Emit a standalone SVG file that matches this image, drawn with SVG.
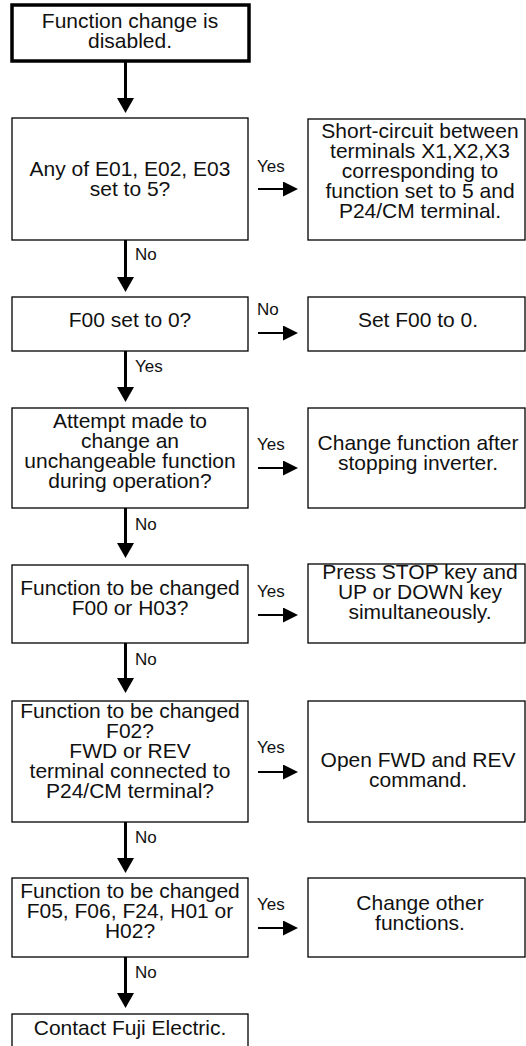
<svg xmlns="http://www.w3.org/2000/svg" width="526" height="1046" viewBox="0 0 526 1046">
<style>
.box{fill:#fff;stroke:#000;stroke-width:1.3}
.start{fill:#fff;stroke:#000;stroke-width:3.5}
text{font-family:"Liberation Sans",Arial,Helvetica,sans-serif;fill:#111}
.t{font-size:21px;text-anchor:middle}
.lbl{font-size:17px}
.v{stroke:#000;stroke-width:3;fill:none}
.h{stroke:#000;stroke-width:2;fill:none}
</style>
<defs>
<marker id="hv" markerUnits="userSpaceOnUse" markerWidth="15" markerHeight="17" viewBox="0 0 15 17" refX="0" refY="8.5" orient="auto"><path d="M0,0 L15,8.5 L0,17 Z" fill="#000"/></marker>
<marker id="hh" markerUnits="userSpaceOnUse" markerWidth="15" markerHeight="15" viewBox="0 0 15 15" refX="0" refY="7.5" orient="auto"><path d="M0,0 L15,7.5 L0,15 Z" fill="#000"/></marker>
</defs>
<rect width="526" height="1046" fill="#fff"/>
<g id="connectors">
<line class="v" x1="125.5" y1="62" x2="125.5" y2="98" marker-end="url(#hv)"/>
<line class="v" x1="125.5" y1="240" x2="125.5" y2="277" marker-end="url(#hv)"/>
<line class="v" x1="125.5" y1="351" x2="125.5" y2="387" marker-end="url(#hv)"/>
<line class="v" x1="125.5" y1="508" x2="125.5" y2="543" marker-end="url(#hv)"/>
<line class="v" x1="125.5" y1="643" x2="125.5" y2="678" marker-end="url(#hv)"/>
<line class="v" x1="125.5" y1="822" x2="125.5" y2="858" marker-end="url(#hv)"/>
<line class="v" x1="125.5" y1="957" x2="125.5" y2="993" marker-end="url(#hv)"/>
<line class="h" x1="258" y1="189" x2="283" y2="189" marker-end="url(#hh)"/>
<line class="h" x1="258" y1="333" x2="283" y2="333" marker-end="url(#hh)"/>
<line class="h" x1="258" y1="468" x2="283" y2="468" marker-end="url(#hh)"/>
<line class="h" x1="258" y1="615" x2="283" y2="615" marker-end="url(#hh)"/>
<line class="h" x1="258" y1="772" x2="283" y2="772" marker-end="url(#hh)"/>
<line class="h" x1="258" y1="928" x2="283" y2="928" marker-end="url(#hh)"/>
<text class="lbl" x="257" y="172">Yes</text>
<text class="lbl" x="257" y="315">No</text>
<text class="lbl" x="257" y="450">Yes</text>
<text class="lbl" x="257" y="597">Yes</text>
<text class="lbl" x="257" y="753">Yes</text>
<text class="lbl" x="257" y="910">Yes</text>
<text class="lbl" x="135" y="260">No</text>
<text class="lbl" x="135" y="372">Yes</text>
<text class="lbl" x="135" y="530">No</text>
<text class="lbl" x="135" y="665">No</text>
<text class="lbl" x="135" y="843">No</text>
<text class="lbl" x="135" y="978">No</text>
</g>
<g id="start">
<rect class="start" x="12" y="5" width="237" height="56"/>
<text class="t" x="130" y="28">Function change is</text>
<text class="t" x="130" y="48">disabled.</text>
</g>
<g id="q1">
<rect class="box" x="12" y="118" width="236" height="122"/>
<text class="t" x="130" y="176">Any of E01, E02, E03</text>
<text class="t" x="130" y="196">set to 5?</text>
</g>
<g id="a1">
<rect class="box" x="308" y="119" width="217" height="121"/>
<text class="t" x="420" y="138">Short-circuit between</text>
<text class="t" x="420" y="158">terminals X1,X2,X3</text>
<text class="t" x="420" y="178">corresponding to</text>
<text class="t" x="420" y="198">function set to 5 and</text>
<text class="t" x="420" y="218">P24/CM terminal.</text>
</g>
<g id="q2">
<rect class="box" x="12" y="297" width="236" height="54"/>
<text class="t" x="130" y="327">F00 set to 0?</text>
</g>
<g id="a2">
<rect class="box" x="308" y="297" width="217" height="54"/>
<text class="t" x="418" y="327">Set F00 to 0.</text>
</g>
<g id="q3">
<rect class="box" x="12" y="408" width="236" height="100"/>
<text class="t" x="130" y="428">Attempt made to</text>
<text class="t" x="130" y="448">change an</text>
<text class="t" x="130" y="468">unchangeable function</text>
<text class="t" x="130" y="488">during operation?</text>
</g>
<g id="a3">
<rect class="box" x="308" y="408" width="217" height="100"/>
<text class="t" x="418" y="450">Change function after</text>
<text class="t" x="418" y="470">stopping inverter.</text>
</g>
<g id="q4">
<rect class="box" x="12" y="565" width="236" height="78"/>
<text class="t" x="130" y="595">Function to be changed</text>
<text class="t" x="130" y="615">F00 or H03?</text>
</g>
<g id="a4">
<rect class="box" x="308" y="564" width="217" height="79"/>
<text class="t" x="420" y="579">Press STOP key and</text>
<text class="t" x="420" y="599">UP or DOWN key</text>
<text class="t" x="420" y="619">simultaneously.</text>
</g>
<g id="q5">
<rect class="box" x="12" y="701" width="236" height="121"/>
<text class="t" x="130" y="718">Function to be changed</text>
<text class="t" x="130" y="738">F02?</text>
<text class="t" x="130" y="758">FWD or REV</text>
<text class="t" x="130" y="778">terminal connected to</text>
<text class="t" x="130" y="798">P24/CM terminal?</text>
</g>
<g id="a5">
<rect class="box" x="308" y="701" width="217" height="121"/>
<text class="t" x="418" y="767">Open FWD and REV</text>
<text class="t" x="418" y="787">command.</text>
</g>
<g id="q6">
<rect class="box" x="12" y="878" width="236" height="79"/>
<text class="t" x="130" y="898">Function to be changed</text>
<text class="t" x="130" y="918">F05, F06, F24, H01 or</text>
<text class="t" x="130" y="938">H02?</text>
</g>
<g id="a6">
<rect class="box" x="308" y="878" width="217" height="79"/>
<text class="t" x="420" y="910">Change other</text>
<text class="t" x="420" y="930">functions.</text>
</g>
<g id="end">
<rect class="box" x="12" y="1014" width="236" height="40"/>
<text class="t" x="130" y="1035">Contact Fuji Electric.</text>
</g>
</svg>
